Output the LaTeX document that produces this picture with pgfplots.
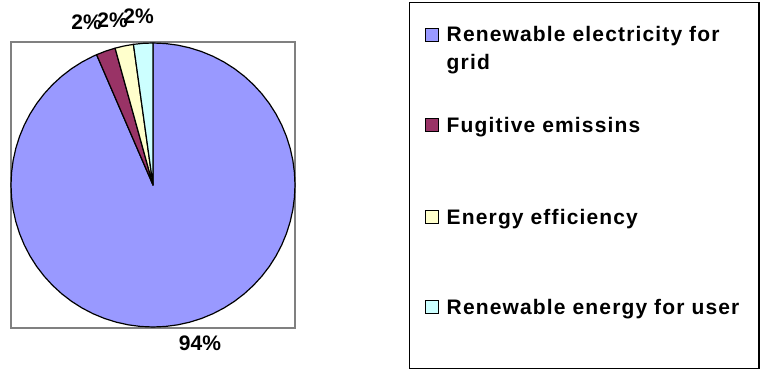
\documentclass[border=0pt]{standalone}
\usepackage{pgfplots}
\pgfplotsset{compat=1.18}
\usepackage{fontspec}
\setmainfont{Liberation Sans}
\definecolor{pieBlue}{HTML}{9999FF}
\definecolor{pieRed}{HTML}{993366}
\definecolor{pieYellow}{HTML}{FFFFCC}
\definecolor{pieCyan}{HTML}{CCFFFF}
\definecolor{frameGray}{HTML}{808080}
\begin{document}
\begin{tikzpicture}[x=1pt,y=1pt]
\useasboundingbox (0,0) rectangle (763,370);
\begin{axis}[at={(11pt,42pt)}, anchor=south west, scale only axis,
  width=284pt, height=286pt,
  xmin=-1, xmax=1, ymin=-1.007, ymax=1.007,
  xtick=\empty, ytick=\empty,
  axis line style={draw=frameGray, line width=1.8pt},
  clip=false]
% Renewable electricity for grid: 93.5 %
\addplot[data cs=polar, fill=pieBlue, draw=black, line width=1.2pt, line join=round] coordinates {
(0,0) (90,1) (85,1) (80,1) (75,1) (70,1) (65,1) (60,1) (55,1) (50,1) (45,1) (40,1) (35,1) (30,1) (25,1) (20,1) (15,1) (10,1) (5,1) (0,1)
(-5,1) (-10,1) (-15,1) (-20,1) (-25,1) (-30,1) (-35,1) (-40,1) (-45,1) (-50,1) (-55,1) (-60,1) (-65,1) (-70,1) (-75,1) (-80,1) (-85,1) (-90,1)
(-95,1) (-100,1) (-105,1) (-110,1) (-115,1) (-120,1) (-125,1) (-130,1) (-135,1) (-140,1) (-145,1) (-150,1) (-155,1) (-160,1) (-165,1) (-170,1) (-175,1) (-180,1)
(-185,1) (-190,1) (-195,1) (-200,1) (-205,1) (-210,1) (-215,1) (-220,1) (-225,1) (-230,1) (-235,1) (-240,1) (-245,1) (-246.6,1)
} -- cycle;
% Fugitive emissins: 2.2 %
\addplot[data cs=polar, fill=pieRed, draw=black, line width=1.2pt, line join=round] coordinates {
(0,0) (113.4,1) (109.44,1) (105.48,1)} -- cycle;
% Energy efficiency: 2.1 %
\addplot[data cs=polar, fill=pieYellow, draw=black, line width=1.2pt, line join=round] coordinates {
(0,0) (105.48,1) (101.7,1) (97.92,1)} -- cycle;
% Renewable energy for user: 2.2 %
\addplot[data cs=polar, fill=pieCyan, draw=black, line width=1.2pt, line join=round] coordinates {
(0,0) (97.92,1) (93.96,1) (90,1)} -- cycle;
\begin{scope}[every node/.style={anchor=base, inner sep=0pt, font=\fontsize{21}{25}\selectfont\bfseries}]
\node at (axis cs:-0.468,1.092) {2\%};
\node at (axis cs:-0.285,1.106) {2\%};
\node at (axis cs:-0.102,1.134) {2\%};
\node at (axis cs:0.331,-1.168) {94\%};
\end{scope}
\end{axis}
% legend
\draw[black, line width=1.6pt] (409.5,1.5) rectangle (759,367.5);
\begin{scope}[every node/.style={anchor=base west, inner sep=0pt, font=\fontsize{21}{25}\selectfont\bfseries\addfontfeature{LetterSpace=5.5}}]
\draw[fill=pieBlue, line width=1pt] (425.8,328.6) rectangle (438.6,341.6);
\node at (446.5,328.3) {Renewable electricity for};
\node at (446.5,300.7) {grid};
\draw[fill=pieRed, line width=1pt] (425.8,238.0) rectangle (438.6,251.0);
\node at (446.5,237.7) {Fugitive emissins};
\draw[fill=pieYellow, line width=1pt] (425.8,146.3) rectangle (438.6,159.3);
\node at (446.5,146) {Energy efficiency};
\draw[fill=pieCyan, line width=1pt] (425.8,56.3) rectangle (438.6,69.3);
\node at (446.5,56) {Renewable energy for user};
\end{scope}
\end{tikzpicture}
\end{document}
